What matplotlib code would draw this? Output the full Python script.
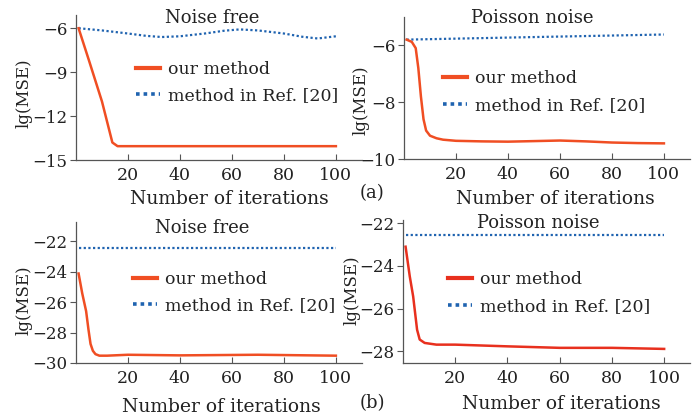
import matplotlib.pyplot as plt
from matplotlib.lines import Line2D

# Panel (a) left: noise free
a1_red_x = [1, 5, 10, 14, 16, 30, 50, 70, 90, 100]
a1_red_y = [-6.0, -8.2, -11.0, -13.8, -14.05, -14.05, -14.05, -14.05, -14.05, -14.05]
a1_blue_x = [1, 10, 20, 27, 33, 40, 50, 57, 63, 70, 80, 87, 93, 100]
a1_blue_y = [-6.0, -6.15, -6.36, -6.52, -6.6, -6.55, -6.35, -6.17, -6.08, -6.15,
             -6.36, -6.58, -6.7, -6.55]

# Panel (a) right: Poisson noise
a2_red_x = [1, 3, 4.5, 5.5, 6.5, 7.5, 8.5, 10, 12.5, 15, 20, 30, 40, 50, 60, 70, 80, 90, 100]
a2_red_y = [-5.8, -5.88, -6.1, -6.8, -7.8, -8.6, -9.0, -9.18, -9.27, -9.32, -9.36,
            -9.38, -9.39, -9.37, -9.35, -9.38, -9.42, -9.44, -9.45]
a2_blue_x = [1, 50, 100]
a2_blue_y = [-5.8, -5.71, -5.62]

# Panel (b) left: noise free
b1_red_x = [1, 2.4, 3.9, 4.8, 5.6, 6.5, 7.5, 9, 12, 20, 40, 70, 100]
b1_red_y = [-24.13, -25.43, -26.6, -27.8, -28.75, -29.2, -29.42, -29.52, -29.52,
            -29.46, -29.5, -29.46, -29.52]
b1_blue_x = [1, 50, 100]
b1_blue_y = [-22.46, -22.46, -22.46]

# Panel (b) right: Poisson noise
b2_red_x = [1, 2.6, 3.9, 5.4, 6.4, 8.3, 12.8, 20, 40, 60, 80, 100]
b2_red_y = [-23.1, -24.49, -25.43, -26.99, -27.45, -27.61, -27.69, -27.69, -27.77,
            -27.84, -27.84, -27.89]
b2_blue_x = [1, 50, 100]
b2_blue_y = [-22.55, -22.55, -22.55]

x_ticks = [20, 40, 60, 80, 100]

plt.rcParams['font.family'] = ['DejaVu Serif']
plt.rcParams['font.size'] = 12

red = '#f04e23'
blue = '#1f63b0'

fig = plt.figure(figsize=(6.99, 4.18), dpi=100)

# [left, bottom, width, height], ylim, yticks, title pos, legend pos, ylabel pos, xlabel pos
panels = [
    ([0.1087, 0.617, 0.409, 0.347], (-15, -5.1), [-6, -9, -12, -15], 'Noise free',
     (0.475, 0.98), (0.21, 0.534), (-0.18, 0.46), (0.535, -0.27),
     a1_red_x, a1_red_y, a1_blue_x, a1_blue_y, red),
    ([0.578, 0.6196, 0.409, 0.340], (-10, -5.0), [-6, -8, -10], 'Poisson noise',
     (0.448, 0.99), (0.136, 0.472), (-0.15, 0.415), (0.531, -0.28),
     a2_red_x, a2_red_y, a2_blue_x, a2_blue_y, red),
    ([0.1087, 0.1316, 0.409, 0.337], (-30, -20.76), [-22, -24, -26, -28, -30], 'Noise free',
     (0.44, 0.957), (0.2, 0.5), (-0.18, 0.447), (0.51, -0.31),
     b1_red_x, b1_red_y, b1_blue_x, b1_blue_y, red),
    ([0.5765, 0.1316, 0.411, 0.342], (-28.55, -21.85), [-22, -24, -26, -28], 'Poisson noise',
     (0.47, 0.98), (0.157, 0.49), (-0.176, 0.51), (0.55, -0.29),
     b2_red_x, b2_red_y, b2_blue_x, b2_blue_y, '#e8301e'),
]

for (rect, ylim, yticks, title, tpos, lpos, ylpos, xlpos,
     rx, ry, bx, by, rcol) in panels:
    ax = fig.add_axes(rect)
    ax.plot(bx, by, color=blue, lw=1.6, dashes=(1, 1.1))
    ax.plot(rx, ry, color=rcol, lw=1.8)
    ax.set_xlim(0, 110)
    ax.set_ylim(*ylim)
    ax.set_xticks(x_ticks)
    ax.set_yticks(yticks)
    ax.spines['top'].set_visible(False)
    ax.spines['right'].set_visible(False)
    for s in ['left', 'bottom']:
        ax.spines[s].set_color('#555555')
        ax.spines[s].set_linewidth(0.9)
    ax.tick_params(axis='x', direction='in', length=4, width=0.8, pad=5, colors='#555555',
                   labelcolor='#222222', labelsize=12.5)
    ax.tick_params(axis='y', direction='out', length=4, width=0.8, pad=2, colors='#555555',
                   labelcolor='#222222', labelsize=12)
    ax.text(tpos[0], tpos[1], title, transform=ax.transAxes, ha='center', va='center',
            fontsize=13, color='#222222')
    ax.set_ylabel('lg(MSE)', fontsize=12, color='#222222')
    ax.yaxis.set_label_coords(*ylpos)
    ax.set_xlabel('Number of iterations', fontsize=13.5, color='#222222')
    ax.xaxis.set_label_coords(*xlpos)
    ax.xaxis.label.set_va('center')
    ax.yaxis.label.set_va('center')
    handles = [Line2D([], [], color=rcol, lw=3),
               Line2D([], [], color=blue, lw=2.6, dashes=(1, 1.1))]
    ax.legend(handles, ['our method', 'method in Ref. [20]'], loc='center left',
              bbox_to_anchor=lpos, frameon=False, borderpad=0, borderaxespad=0,
              handlelength=1.4, handletextpad=0.45, labelspacing=0.55, fontsize=12.5,
              labelcolor='#222222')

fig.text(372 / 699, 1 - 193 / 418, '(a)', ha='center', va='center', fontsize=13, color='#222222')
fig.text(372 / 699, 1 - 403 / 418, '(b)', ha='center', va='center', fontsize=13, color='#222222')

fig.savefig('out.png', dpi=100)
